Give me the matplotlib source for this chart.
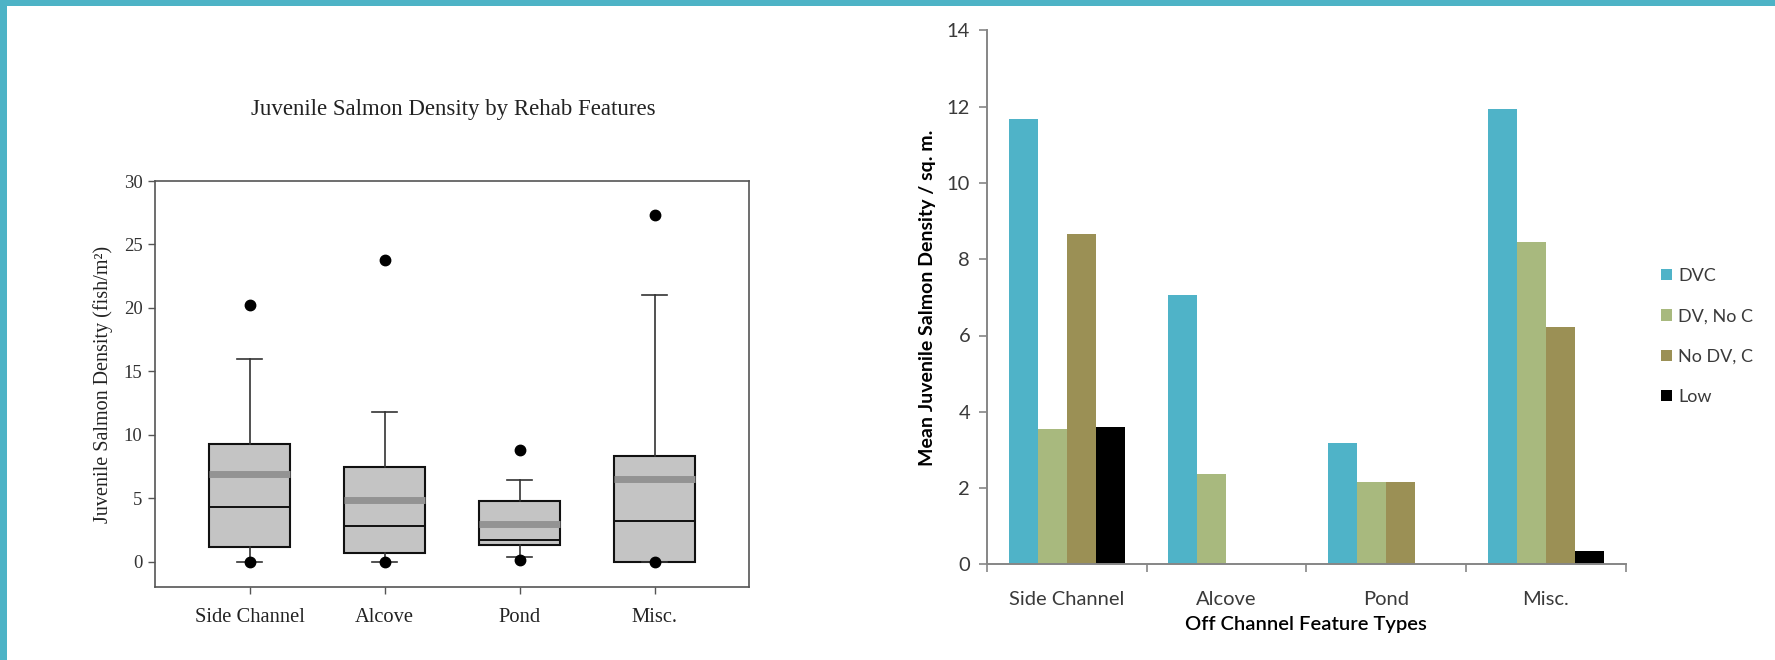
import matplotlib
matplotlib.use("Agg")
import matplotlib.pyplot as plt
from matplotlib.patches import Rectangle, Patch
import numpy as np

# ---- Box plot data (fish / m^2) ----
features = ["Side Channel", "Alcove", "Pond", "Misc."]
q1 = [1.13, 0.68, 1.28, 0.0]
q3 = [9.25, 7.45, 4.8, 8.35]
medians = [4.33, 2.81, 1.68, 3.23]
means = [6.9, 4.88, 2.95, 6.5]
whisker_low = [0.0, 0.0, 0.4, 0.0]
whisker_high = [15.95, 11.8, 6.45, 21.05]
outliers_high = [20.2, 23.8, 8.8, 27.3]
outliers_low = [0.0, 0.0, 0.15, -0.05]

# ---- Bar chart data (mean density / sq. m.) ----
bar_categories = ["Side Channel", "Alcove", "Pond", "Misc."]
series_names = ["DVC", "DV, No C", "No DV, C", "Low"]
dvc = [11.67, 7.05, 3.19, 11.94]
dv_no_c = [3.56, 2.38, 2.16, 8.45]
no_dv_c = [8.65, 0.0, 2.16, 6.21]
low = [3.6, 0.0, 0.0, 0.36]
series_colors = ["#4fb3c8", "#a8b97e", "#9b9055", "#000000"]

TEAL = "#4db3c6"
SERIF = ["Liberation Serif", "DejaVu Serif"]
SANS = ["Lato", "DejaVu Sans"]

fig = plt.figure(figsize=(17.75, 6.6), dpi=100)
fig.patch.set_facecolor("white")

# frame stripes along the top and left edges
fig.patches.append(Rectangle((0, 1 - 6 / 660), 1, 6 / 660, transform=fig.transFigure,
                             facecolor=TEAL, edgecolor="none", zorder=10))
fig.patches.append(Rectangle((0, 0), 7 / 1775, 1, transform=fig.transFigure,
                             facecolor=TEAL, edgecolor="none", zorder=10))

# ================= Left: box plot =================
axl = fig.add_axes([155 / 1775, 1 - 587 / 660, 594 / 1775, 406 / 660])
stats = []
for i, name in enumerate(features):
    stats.append(dict(label=name, med=medians[i], q1=q1[i], q3=q3[i],
                      whislo=whisker_low[i], whishi=whisker_high[i],
                      mean=means[i], fliers=[outliers_high[i], outliers_low[i]]))
positions = np.arange(1, len(features) + 1)
axl.bxp(stats, positions=positions, widths=0.6, capwidths=0.18,
        patch_artist=True, showmeans=True, meanline=True,
        boxprops=dict(facecolor="#c4c4c4", edgecolor="#111111", linewidth=1.5),
        medianprops=dict(color="#111111", linewidth=1.4),
        meanprops=dict(color="#939393", linewidth=5, linestyle="-"),
        whiskerprops=dict(color="#333333", linewidth=1.2),
        capprops=dict(color="#333333", linewidth=1.2),
        flierprops=dict(marker="o", markerfacecolor="black", markeredgecolor="black",
                        markersize=7.5))
axl.set_xlim(0.3, 4.7)
axl.set_ylim(-2, 30)
axl.set_yticks(np.arange(0, 31, 5))
axl.set_xticks(positions)
axl.set_xticklabels(features)
for sp in axl.spines.values():
    sp.set_color("#555555")
    sp.set_linewidth(1.2)
axl.tick_params(axis="both", direction="out", length=5, color="#555555", width=1)
axl.tick_params(axis="y", labelsize=13.5, labelcolor="#333333", pad=4)
axl.tick_params(axis="x", labelsize=14.8, labelcolor="#222222", pad=10)
for lab in axl.get_xticklabels() + axl.get_yticklabels():
    lab.set_family(SERIF)
axl.set_ylabel("Juvenile Salmon Density (fish/m²)", family=SERIF, fontsize=14.5,
               color="#222222")
axl.yaxis.set_label_coords(-0.07, 0.5)
fig.text(453 / 1775, 1 - 110 / 660, "Juvenile Salmon Density by Rehab Features",
         family=SERIF, fontsize=16.5, color="#222222", ha="center", va="center")

# ================= Right: grouped bars =================
axr = fig.add_axes([986.9 / 1775, 1 - 564.4 / 660, 638.9 / 1775, 534.1 / 660])
x = np.arange(len(bar_categories))
bw = 0.182
all_series = [dvc, dv_no_c, no_dv_c, low]
for k, (vals, name, col) in enumerate(zip(all_series, series_names, series_colors)):
    axr.bar(x + (k - 1.5) * bw, vals, width=bw, color=col, label=name,
            edgecolor="none", zorder=2)
axr.set_xlim(-0.5, len(bar_categories) - 0.5)
axr.set_ylim(0, 14)
axr.set_yticks(np.arange(0, 15, 2))
axr.set_xticks(x)
axr.set_xticklabels(bar_categories)
axr.set_xticks(np.arange(-0.5, len(bar_categories)), minor=True)
for side in ("top", "right"):
    axr.spines[side].set_visible(False)
for side in ("left", "bottom"):
    axr.spines[side].set_color("#868686")
    axr.spines[side].set_linewidth(1.4)
axr.tick_params(axis="y", direction="out", length=6, width=1.2, color="#868686",
                labelsize=14.5, labelcolor="#3a3a3a", pad=6)
axr.tick_params(axis="x", which="major", length=0, labelsize=14.5, labelcolor="#3a3a3a",
                pad=19)
axr.tick_params(axis="x", which="minor", direction="out", length=6, width=1.2,
                color="#868686")
for lab in axr.get_xticklabels() + axr.get_yticklabels():
    lab.set_family(SANS)
axr.set_ylabel("Mean Juvenile Salmon Density / sq. m.", family=SANS, fontsize=14,
               fontweight="bold", color="black")
axr.yaxis.set_label_coords(-0.08, 0.5)
axr.set_xlabel("Off Channel Feature Types", family=SANS, fontsize=14.5,
               fontweight="semibold", color="black")
axr.xaxis.set_label_coords(0.5, -0.097)

handles = [Patch(facecolor=c, edgecolor="none") for c in series_colors]
leg = fig.legend(handles, series_names, loc="center left",
                 bbox_to_anchor=(1661 / 1775, 1 - 336.5 / 660), frameon=False,
                 prop=dict(family=SANS, size=13), handlelength=0.6, handleheight=0.6,
                 handletextpad=0.35, labelspacing=1.35, borderpad=0, borderaxespad=0)
for t in leg.get_texts():
    t.set_color("#3a3a3a")

fig.savefig("out.png", dpi=100, facecolor="white")
